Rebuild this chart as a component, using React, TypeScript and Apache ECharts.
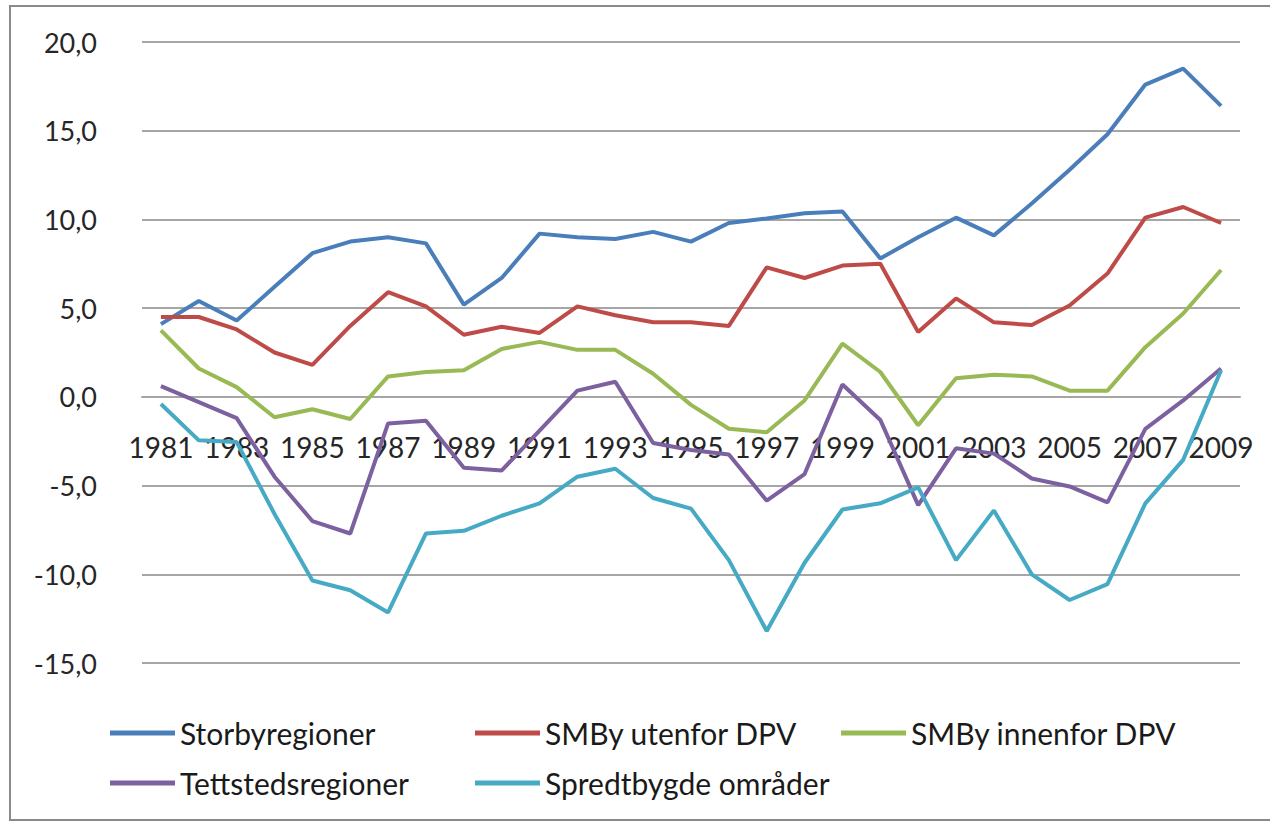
import React, { useEffect, useRef } from "react";
import * as echarts from "echarts";

const years = [
  "1981", "1982", "1983", "1984", "1985", "1986", "1987", "1988", "1989", "1990",
  "1991", "1992", "1993", "1994", "1995", "1996", "1997", "1998", "1999", "2000",
  "2001", "2002", "2003", "2004", "2005", "2006", "2007", "2008", "2009",
];

const seriesNames = [
  "Storbyregioner",
  "SMBy utenfor DPV",
  "SMBy innenfor DPV",
  "Tettstedsregioner",
  "Spredtbygde områder",
];

const storbyregioner = [4.1, 5.4, 4.3, 6.2, 8.1, 8.75, 9.0, 8.65, 5.2, 6.7, 9.2, 9.0, 8.9, 9.3, 8.75, 9.8, 10.05, 10.35, 10.45, 7.8, 9.0, 10.1, 9.1, 10.9, 12.8, 14.8, 17.6, 18.5, 16.4];
const smbyUtenfor = [4.5, 4.5, 3.8, 2.5, 1.8, 4.0, 5.9, 5.1, 3.5, 3.95, 3.6, 5.1, 4.6, 4.2, 4.2, 4.0, 7.3, 6.7, 7.4, 7.5, 3.65, 5.55, 4.2, 4.05, 5.15, 6.95, 10.1, 10.7, 9.8];
const smbyInnenfor = [3.75, 1.6, 0.55, -1.15, -0.7, -1.25, 1.15, 1.4, 1.5, 2.7, 3.1, 2.65, 2.65, 1.3, -0.45, -1.8, -2.0, -0.2, 3.0, 1.4, -1.6, 1.05, 1.25, 1.15, 0.35, 0.35, 2.8, 4.7, 7.15];
const tettstedsregioner = [0.6, -0.3, -1.2, -4.5, -7.0, -7.7, -1.5, -1.35, -4.0, -4.15, -1.9, 0.35, 0.85, -2.6, -3.0, -3.25, -5.85, -4.35, 0.7, -1.3, -6.1, -2.9, -3.2, -4.6, -5.05, -5.95, -1.8, -0.2, 1.6];
const spredtbygde = [-0.4, -2.45, -2.55, -6.6, -10.35, -10.9, -12.15, -7.7, -7.55, -6.7, -6.0, -4.5, -4.05, -5.7, -6.3, -9.2, -13.2, -9.35, -6.35, -6.0, -5.1, -9.2, -6.4, -10.0, -11.45, -10.55, -6.0, -3.55, 1.5];

const seriesValues = [storbyregioner, smbyUtenfor, smbyInnenfor, tettstedsregioner, spredtbygde];
const seriesColors = ["#4A7EBB", "#BE4B48", "#98B954", "#7D60A0", "#46AAC5"];

const yMin = -15;
const yMax = 20;
const yStep = 5;

const FONT = "Lato, 'Noto Sans', sans-serif";

export default function App() {
  const ref = useRef<HTMLDivElement>(null);

  useEffect(() => {
    if (!ref.current) return;
    const chart = echarts.init(ref.current, null, { renderer: "svg" });
    const gridTop = 42;
    const gridBottom = 161;
    const gridHeight = 824 - gridTop - gridBottom;
    const zeroOffset = (gridHeight * (0 - yMin)) / (yMax - yMin);
    const legendLeft = [110, 475, 841, 110, 475];
    const legendTop = [718, 718, 718, 768, 768];
    chart.setOption({
      animation: false,
      backgroundColor: "#ffffff",
      grid: { left: 142, right: 30, top: gridTop, bottom: gridBottom, containLabel: false },
      xAxis: {
        type: "category",
        data: years,
        boundaryGap: true,
        offset: -zeroOffset,
        axisLine: { show: true, onZero: false, lineStyle: { color: "#a6a6a6", width: 2 } },
        axisTick: { show: false },
        axisLabel: {
          interval: 1,
          margin: 36,
          fontSize: 28,
          fontFamily: FONT,
          color: "#262626",
        },
        splitLine: { show: false },
      },
      yAxis: {
        type: "value",
        min: yMin,
        max: yMax,
        interval: yStep,
        axisLine: { show: false },
        axisTick: { show: false },
        axisLabel: {
          margin: 45,
          fontSize: 27,
          fontFamily: FONT,
          color: "#262626",
          formatter: (v: number) => v.toFixed(1).replace(".", ","),
        },
        splitLine: { show: true, lineStyle: { color: "#a6a6a6", width: 2 } },
      },
      legend: seriesNames.map((name, i) => ({
        data: [name],
        left: legendLeft[i],
        top: legendTop[i],
        padding: 0,
        icon: "rect",
        itemWidth: 65,
        itemHeight: 5,
        itemGap: 0,
        textStyle: { fontFamily: FONT, fontSize: 30, color: "#1a1a1a", lineHeight: 30 },
      })),
      graphic: [
        {
          type: "rect",
          shape: { x: 10, y: 6, width: 1300, height: 814 },
          style: { fill: "none", stroke: "#8a8a8a", lineWidth: 2 },
          z: -1,
        },
      ],
      series: seriesNames.map((name, i) => ({
        name,
        type: "line",
        data: seriesValues[i],
        symbol: "none",
        color: seriesColors[i],
        lineStyle: { color: seriesColors[i], width: 4 },
      })),
    });
    return () => chart.dispose();
  }, []);

  return (
    <div
      ref={ref}
      style={{ position: "absolute", left: 0, top: 0, width: 1270, height: 824, background: "#fff" }}
    />
  );
}
